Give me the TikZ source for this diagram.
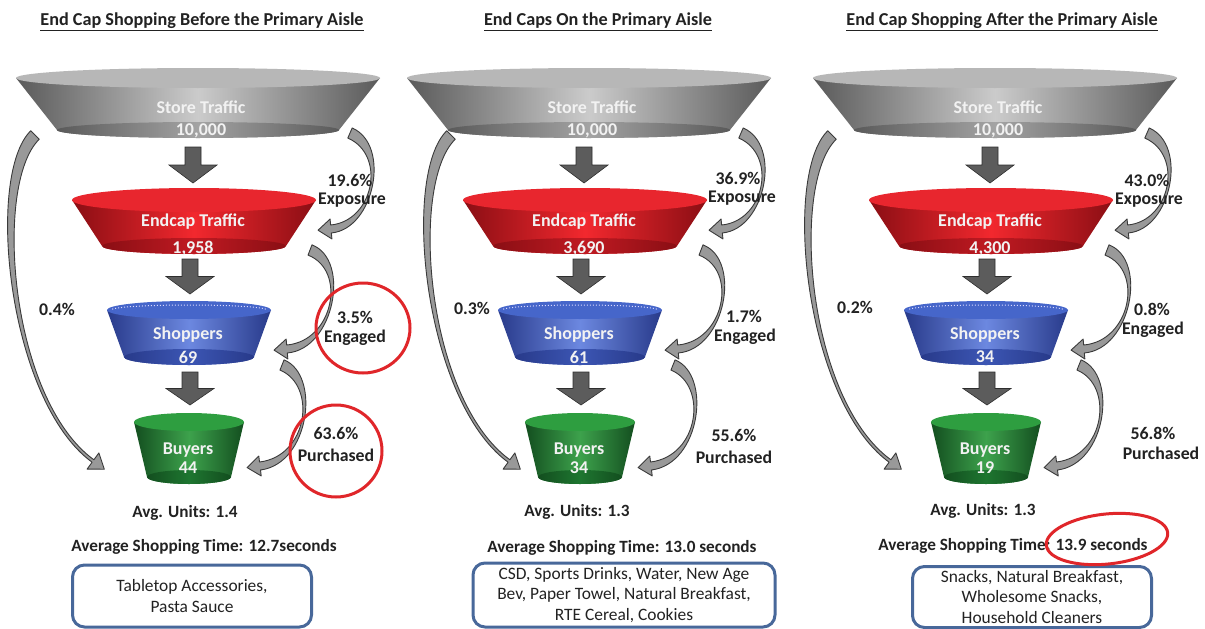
\documentclass[tikz,border=0pt]{standalone}
\usepackage{fontspec}
\setmainfont{Carlito}
\usetikzlibrary{calc}
\definecolor{gd}{HTML}{5A5A5A}\definecolor{gl}{HTML}{CBCBCB}\definecolor{gt}{HTML}{B7B7B7}\definecolor{gb}{HTML}{A4A4A4}
\definecolor{rd}{HTML}{8A0E14}\definecolor{rl}{HTML}{F2282E}\definecolor{rt}{HTML}{E8262E}\definecolor{rb}{HTML}{C01A22}
\definecolor{bd}{HTML}{283A8A}\definecolor{bl}{HTML}{6C88E0}\definecolor{bt}{HTML}{4666CA}\definecolor{bb}{HTML}{3C56B4}
\definecolor{ed}{HTML}{134E1F}\definecolor{el}{HTML}{3DA24C}\definecolor{et}{HTML}{2E9E40}\definecolor{eb}{HTML}{1E7630}
\definecolor{txt}{HTML}{222222}\definecolor{ring}{HTML}{E0262A}\definecolor{boxc}{HTML}{48689A}
\definecolor{arrf}{HTML}{999999}\definecolor{arrd}{HTML}{3A3A3A}\definecolor{darrf}{HTML}{5C5C5C}
\tikzset{
 title/.style={font=\fontsize{18.2}{21}\selectfont\bfseries, text=txt},
 flab/.style={font=\fontsize{18}{21}\selectfont\bfseries, text=white!95!black},
 lab/.style={font=\fontsize{17.8}{21}\selectfont\bfseries, text=txt, inner sep=0pt},
 avg/.style={font=\fontsize{17.2}{20}\selectfont\bfseries, text=txt},
 itembox/.style={draw=boxc, line width=3pt, rounded corners=12pt, fill=white, align=center,
   font=\fontsize{17.4}{20.5}\selectfont, text=txt, inner sep=0pt},
 redring/.style={draw=ring, line width=3pt},
 carrow/.style={fill=arrf, draw=arrd, line width=0.9pt, line join=round},
 darr/.style={fill=darrf, draw=arrd!80!black, line width=0.6pt},
 bluedots/.style={draw=white!85!blue, dotted, line width=1pt},
}
% funnel: cx, ytop, rxtop, rytop, ybot, rxbot, rybot, colour prefix
\newcommand{\funnel}[8]{%
 \shade[left color=#8d, right color=#8d, middle color=#8l] ({#1-#3},#2) -- ({#1-#6},#5)
   arc[start angle=180,end angle=0,x radius=#6,y radius=#7] -- ({#1+#3},#2) -- cycle;
 \shade[left color=#8d, right color=#8d, middle color=#8b] (#1,#5) ellipse[x radius=#6, y radius=#7];
 \fill[#8t] (#1,#2) ellipse[x radius=#3, y radius=#4];}
% block arrow down: x, ytop, ybottom
\newcommand{\downarr}[3]{%
 \filldraw[darr] ({#1-8},#2) -- ({#1+8},#2) -- ({#1+8},{(#2+#3)/2}) -- ({#1+24},{(#2+#3)/2})
   -- (#1,#3) -- ({#1-24},{(#2+#3)/2}) -- ({#1-8},{(#2+#3)/2}) -- cycle;}
% curved tapered arrow: start, c1, c2, end (named coords), ws, we, head half width, head length
\newcommand{\curvarr}[8]{%
 \filldraw[carrow] ($(#1)!#5!90:(#2)$) .. controls ($(#2)!#5!-90:(#1)$) and ($(#3)!#6!90:(#4)$) ..
   ($(#4)!#6!-90:(#3)$) -- ($(#4)!#7!-90:(#3)$) -- ($(#4)!-#8!(#3)$) -- ($(#4)!#7!90:(#3)$)
   -- ($(#4)!#6!90:(#3)$) .. controls ($(#3)!#6!-90:(#4)$) and ($(#2)!#5!90:(#1)$) ..
   ($(#1)!#5!-90:(#2)$) -- cycle;}
% the funnel stack and arrows of one panel, in panel-local coordinates; #1 = shift of left arrow
\newcommand{\stack}[1]{%
 \funnel{9}{78}{182}{10}{130}{141}{8}{g}
 \funnel{5}{200}{122}{12}{246}{92}{8}{r}
 \funnel{0}{310}{82}{9}{357}{65}{8}{b}
 \draw[bluedots] ({78*cos(190)},{310+5*sin(190)}) arc[start angle=190,end angle=350,x radius=78,y radius=5];
 \funnel{0}{422}{55}{9}{477}{42}{7}{e}
 \downarr{4}{147}{183}
 \downarr{1}{259}{294}
 \downarr{1}{372}{405}
 \coordinate (xs) at (161,133); \coordinate (xa) at (200,150); \coordinate (xb) at (185,225); \coordinate (xe) at (142,229);
 \curvarr{xs}{xa}{xb}{xe}{5.5pt}{4pt}{10pt}{13pt}
 \coordinate (gs) at (121,250); \coordinate (ga) at (160,265); \coordinate (gb) at (145,345); \coordinate (ge) at (98,349);
 \curvarr{gs}{ga}{gb}{ge}{5.5pt}{4pt}{10pt}{13pt}
 \coordinate (ps) at (93,365); \coordinate (pa) at (130,380); \coordinate (pb) at (120,460); \coordinate (pe) at (71,466);
 \curvarr{ps}{pa}{pb}{pe}{5.5pt}{4pt}{10pt}{13pt}
 \coordinate (ls) at ({-154+#1},135); \coordinate (la) at ({-200+#1},180); \coordinate (lb) at ({-180+#1},400); \coordinate (le) at ({-96+#1},461);
 \curvarr{ls}{la}{lb}{le}{6pt}{1.5pt}{10pt}{14pt}
 \node[flab] (st) at (12,107) {Store Traffic};
 \node[flab] (en) at (4,222) {Endcap Traffic};
 \node[flab] (sh) at (-1,335) {Shoppers};
 \node[flab] (bu) at (-1,450) {Buyers};
 \node[flab] (stn) at (12,131) {10,000};
}
\begin{document}
\begin{tikzpicture}[x=1pt,y=-1pt]
\useasboundingbox (0,0) rectangle (1205,629);
\fill[white] (0,0) rectangle (1205,629);
\node[title] (t1) at (202,22) {\underline{End Cap Shopping Before the Primary Aisle}};
\node[title] (t2) at (598,22) {\underline{End Caps On the Primary Aisle}};
\node[title] (t3) at (1002,22) {\underline{End Cap Shopping After the Primary Aisle}};
% panel 1
\begin{scope}[xshift=189pt]
 \stack{0}
 \node[flab] (en1) at (4,249) {1,958};
 \node[flab] (sh1) at (-1,357) {69};
 \node[flab] (bu1) at (-1,468) {44};
 \node[lab] (x1a) at (161,180) {19.6\%};
 \node[lab] (x1b) at (163,200) {Exposure};
 \node[lab] (g1a) at (166,317) {3.5\%};
 \node[lab] (g1b) at (166,338) {Engaged};
 \node[lab] (p1a) at (147,433) {63.6\%};
 \node[lab] (p1b) at (147,455) {Purchased};
 \node[lab] (l1) at (-132,309) {0.4\%};
 \node[avg] (u1) at (-4,513) {Avg. Units: 1.4};
 \node[avg] (a1) at (15,547) {Average Shopping Time: 12.7seconds};
 \node[itembox, minimum width=239pt, minimum height=62pt] (box1) at (3,596) {Tabletop Accessories,\\Pasta Sauce};
\end{scope}
\draw[redring] (363,328) ellipse[x radius=47, y radius=45];
\draw[redring] (336,451) ellipse[x radius=46, y radius=46];
% panel 2
\begin{scope}[xshift=580pt]
 \stack{25}
 \node[flab] (en2) at (4,249) {3,690};
 \node[flab] (sh2) at (-1,357) {61};
 \node[flab] (bu2) at (-1,468) {34};
 \node[lab] (x2a) at (158,178) {36.9\%};
 \node[lab] (x2b) at (162,198) {Exposure};
 \node[lab] (g2a) at (164,316) {1.7\%};
 \node[lab] (g2b) at (165,337) {Engaged};
 \node[lab] (p2a) at (154,435) {55.6\%};
 \node[lab] (p2b) at (154,457) {Purchased};
 \node[lab] (l2) at (-108,308) {0.3\%};
 \node[avg] (u2) at (-3,512) {Avg. Units: 1.3};
 \node[avg] (a2) at (42,548) {Average Shopping Time: 13.0 seconds};
 \node[itembox, minimum width=302pt, minimum height=64pt] (box2) at (44,595) {CSD, Sports Drinks, Water, New Age\\Bev, Paper Towel, Natural Breakfast,\\RTE Cereal, Cookies};
\end{scope}
% panel 3
\begin{scope}[xshift=986pt]
 \stack{0}
 \node[flab] (en3) at (4,249) {4,300};
 \node[flab] (sh3) at (-1,357) {34};
 \node[flab] (bu3) at (-1,468) {19};
 \node[lab] (x3a) at (161,180) {43.0\%};
 \node[lab] (x3b) at (163,200) {Exposure};
 \node[lab] (g3a) at (166,309) {0.8\%};
 \node[lab] (g3b) at (167,330) {Engaged};
 \node[lab] (p3a) at (167,433) {56.8\%};
 \node[lab] (p3b) at (175,453) {Purchased};
 \node[lab] (l3) at (-131,307) {0.2\%};
 \node[avg] (u3) at (-3,511) {Avg. Units: 1.3};
 \node[avg] (a3) at (27,546) {Average Shopping Time: 13.9 seconds};
 \node[itembox, minimum width=239pt, minimum height=61pt] (box3) at (46,597) {Snacks, Natural Breakfast,\\Wholesome Snacks,\\Household Cleaners};
\end{scope}
\draw[redring, rotate around={6:(1107,539)}] (1107,539) ellipse[x radius=61, y radius=25];
\end{tikzpicture}
\end{document}
